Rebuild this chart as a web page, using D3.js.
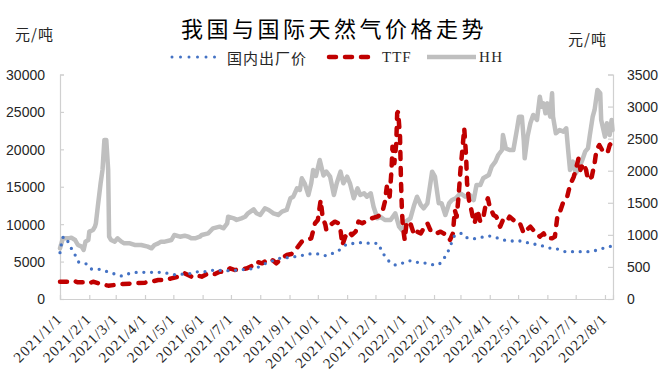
<!DOCTYPE html>
<html>
<head>
<meta charset="utf-8">
<script src="https://cdn.jsdelivr.net/npm/d3@7"></script>
<style>
  html, body { margin: 0; padding: 0; background: #fff; }
  svg { display: block; }
</style>
</head>
<body>
<svg id="chart" width="669" height="378"></svg>
<script>
// ---------- DATA ----------
const title = "我国与国际天然气价格走势";
const seriesNames = ["国内出厂价", "TTF", "HH"];
const leftTicks = [0, 5000, 10000, 15000, 20000, 25000, 30000];
const rightTicks = [0, 500, 1000, 1500, 2000, 2500, 3000, 3500];
const unitLabel = "元/吨";

// 国内出厂价 (left axis)
const domesticDates = ["2021-01-01","2021-01-05","2021-01-13","2021-01-17","2021-01-21","2021-01-29","2021-02-03","2021-02-12","2021-02-20","2021-02-28","2021-03-08","2021-03-16","2021-03-25","2021-04-01","2021-04-10","2021-04-18","2021-04-25","2021-05-03","2021-05-12","2021-05-21","2021-05-28","2021-06-05","2021-06-14","2021-06-23","2021-07-01","2021-07-09","2021-07-17","2021-07-25","2021-08-02","2021-08-10","2021-08-18","2021-08-24","2021-08-31","2021-09-09","2021-09-17","2021-09-24","2021-10-02","2021-10-10","2021-10-18","2021-10-25","2021-11-01","2021-11-09","2021-11-17","2021-11-26","2021-12-04","2021-12-07","2021-12-11","2021-12-17","2021-12-23","2021-12-31","2022-01-08","2022-01-16","2022-01-25","2022-02-02","2022-02-09","2022-02-13","2022-02-17","2022-02-23","2022-03-03","2022-03-08","2022-03-14","2022-03-23","2022-03-31","2022-04-08","2022-04-16","2022-04-25","2022-05-03","2022-05-11","2022-05-19","2022-05-27","2022-06-05","2022-06-13","2022-06-21","2022-06-29","2022-07-07","2022-07-15","2022-07-24","2022-08-01","2022-08-09"];
const domesticValues = [6190,8330,6770,5880,4920,4677,4009,3966,3653,3340,3073,3430,3564,3564,3564,3564,3430,3252,3340,3430,3653,3653,3875,3786,3786,3875,3964,4098,4410,4989,5212,5524,5524,5720,5880,6040,6013,5786,6190,6637,7310,7440,7530,7440,7440,6548,5746,4851,4544,4851,5118,4851,4766,4544,4900,5746,6637,8460,8776,8196,8050,8240,8420,8196,7885,7750,7750,7530,7310,7083,6770,6637,6320,6320,6320,6320,6548,6860,7083];

// TTF (left axis)
const ttfDates = ["2021-01-01","2021-01-10","2021-01-15","2021-01-20","2021-01-29","2021-02-01","2021-02-05","2021-02-14","2021-02-21","2021-02-28","2021-03-09","2021-03-21","2021-04-01","2021-04-08","2021-04-15","2021-04-22","2021-04-29","2021-05-06","2021-05-13","2021-05-20","2021-05-24","2021-05-31","2021-06-07","2021-06-14","2021-06-19","2021-06-25","2021-06-30","2021-07-05","2021-07-11","2021-07-18","2021-07-25","2021-07-28","2021-08-03","2021-08-08","2021-08-13","2021-08-18","2021-08-24","2021-08-29","2021-09-03","2021-09-10","2021-09-14","2021-09-19","2021-09-24","2021-09-28","2021-10-01","2021-10-04","2021-10-06","2021-10-09","2021-10-10","2021-10-14","2021-10-19","2021-10-23","2021-10-25","2021-10-27","2021-10-30","2021-11-03","2021-11-06","2021-11-10","2021-11-13","2021-11-17","2021-11-20","2021-11-24","2021-11-27","2021-12-03","2021-12-08","2021-12-11","2021-12-13","2021-12-16","2021-12-18","2021-12-19","2021-12-21","2021-12-23","2021-12-24","2021-12-25","2021-12-27","2021-12-28","2021-12-29","2021-12-30","2022-01-01","2022-01-03","2022-01-07","2022-01-11","2022-01-14","2022-01-18","2022-01-21","2022-01-25","2022-01-28","2022-02-01","2022-02-04","2022-02-08","2022-02-11","2022-02-15","2022-02-18","2022-02-21","2022-02-23","2022-02-25","2022-02-27","2022-03-01","2022-03-03","2022-03-05","2022-03-07","2022-03-08","2022-03-10","2022-03-11","2022-03-14","2022-03-16","2022-03-19","2022-03-22","2022-03-25","2022-03-28","2022-03-30","2022-04-01","2022-04-05","2022-04-08","2022-04-12","2022-04-15","2022-04-19","2022-04-22","2022-04-26","2022-04-30","2022-05-03","2022-05-07","2022-05-10","2022-05-14","2022-05-17","2022-05-21","2022-05-24","2022-05-28","2022-05-31","2022-06-06","2022-06-09","2022-06-12","2022-06-15","2022-06-18","2022-06-22","2022-06-25","2022-06-29","2022-07-01","2022-07-04","2022-07-06","2022-07-09","2022-07-12","2022-07-14","2022-07-18","2022-07-21","2022-07-23","2022-07-26","2022-07-29","2022-08-01","2022-08-04","2022-08-06","2022-08-09"];
const ttfValues = [2312,2312,2446,2227,2227,2094,2312,1960,1782,1871,2005,2094,2183,2312,2539,2539,2762,2985,3430,2985,3207,2985,3430,3340,3653,3653,4098,3875,3964,4098,4544,4989,4766,5212,5301,4766,5435,5880,6013,6994,7662,7885,8108,10116,10557,13230,11000,9889,9221,9889,10334,10116,9221,7216,8330,8998,8553,8998,10334,10116,10334,10557,10780,11000,11450,13005,15010,13670,17240,20350,18130,20800,24820,25030,21690,15900,11890,9660,7885,10334,10116,8553,8998,8776,9444,10116,9221,9221,8776,8998,8776,8553,7885,8776,11890,11000,13670,17240,19910,22810,19020,15460,13230,12790,11000,10116,11890,10334,10780,12790,13460,12340,11230,11000,9660,10557,10334,11000,10557,10116,10116,8776,9221,9660,9221,8776,8330,8776,8108,8108,8330,11450,11890,13005,13670,15230,16340,17240,18800,17240,18130,17240,15900,16340,18130,19910,20580,19910,20130,19680,20580,21020];

// HH (right axis)
const hhDates = ["2021-01-01","2021-01-04","2021-01-10","2021-01-13","2021-01-17","2021-01-20","2021-01-24","2021-01-26","2021-01-28","2021-01-31","2021-02-01","2021-02-05","2021-02-07","2021-02-08","2021-02-10","2021-02-13","2021-02-15","2021-02-17","2021-02-19","2021-02-21","2021-02-22","2021-02-24","2021-02-28","2021-03-03","2021-03-07","2021-03-10","2021-03-16","2021-03-21","2021-03-28","2021-04-04","2021-04-08","2021-04-11","2021-04-15","2021-04-18","2021-04-22","2021-04-29","2021-05-02","2021-05-08","2021-05-13","2021-05-17","2021-05-20","2021-05-24","2021-05-29","2021-05-31","2021-06-07","2021-06-12","2021-06-19","2021-06-23","2021-06-27","2021-06-28","2021-07-04","2021-07-07","2021-07-12","2021-07-16","2021-07-19","2021-07-25","2021-07-28","2021-08-01","2021-08-06","2021-08-10","2021-08-15","2021-08-20","2021-08-24","2021-08-29","2021-09-02","2021-09-05","2021-09-09","2021-09-12","2021-09-14","2021-09-17","2021-09-21","2021-09-24","2021-09-26","2021-09-29","2021-10-03","2021-10-07","2021-10-10","2021-10-14","2021-10-18","2021-10-21","2021-10-25","2021-10-28","2021-11-01","2021-11-04","2021-11-08","2021-11-12","2021-11-15","2021-11-19","2021-11-22","2021-11-26","2021-11-29","2021-12-03","2021-12-06","2021-12-11","2021-12-17","2021-12-22","2021-12-26","2021-12-29","2022-01-02","2022-01-07","2022-01-11","2022-01-14","2022-01-18","2022-01-21","2022-01-25","2022-01-30","2022-02-02","2022-02-06","2022-02-09","2022-02-13","2022-02-17","2022-02-20","2022-02-24","2022-03-01","2022-03-06","2022-03-11","2022-03-15","2022-03-18","2022-03-22","2022-03-25","2022-03-31","2022-04-03","2022-04-07","2022-04-10","2022-04-14","2022-04-15","2022-04-18","2022-04-22","2022-04-26","2022-04-30","2022-05-02","2022-05-05","2022-05-07","2022-05-08","2022-05-11","2022-05-14","2022-05-17","2022-05-21","2022-05-24","2022-05-26","2022-05-28","2022-05-30","2022-06-01","2022-06-04","2022-06-06","2022-06-07","2022-06-10","2022-06-14","2022-06-18","2022-06-21","2022-06-23","2022-06-25","2022-06-28","2022-07-01","2022-07-05","2022-07-08","2022-07-11","2022-07-14","2022-07-16","2022-07-19","2022-07-21","2022-07-24","2022-07-27","2022-07-28","2022-08-01","2022-08-03","2022-08-06","2022-08-08","2022-08-09"];
const hhValues = [790,946,946,956,920,842,816,764,894,920,1050,1076,1128,1180,1440,1804,2011,2479,2479,2011,971,920,894,946,894,868,868,842,842,816,790,842,868,894,894,920,998,971,987,971,946,946,971,998,1024,1102,1128,1102,1180,1283,1258,1232,1258,1283,1336,1398,1336,1310,1414,1388,1336,1310,1362,1388,1570,1595,1726,1700,1882,1804,1621,1804,2011,1918,2167,1925,1985,1907,1621,1804,1985,1804,1907,1804,1570,1726,1621,1648,1595,1648,1439,1258,1283,1232,1232,1336,1128,1076,1206,1258,1466,1595,1466,1414,1492,1985,1907,1492,1492,1310,1492,1543,1570,1648,1595,1621,1543,1777,1777,1882,1933,2063,2141,2245,2323,2557,2349,2323,2323,2661,2843,2843,2479,2193,2531,2739,2869,2791,3154,2998,3050,2895,3050,2843,3207,2843,2583,2635,2609,2661,2323,2011,2141,1960,2063,2167,2297,2349,2557,2843,2947,3258,3207,2791,2531,2739,2557,2791,2635];

// ---------- CHART ----------
const parse = d3.timeParse("%Y-%m-%d");
const svg = d3.select("#chart");
const plot = {left: 60, right: 613, top: 74.5, bottom: 299};

const x = d3.scaleTime()
  .domain([parse("2021-01-01"), new Date(2022, 7, 9, 12)])
  .range([plot.left, plot.right]);
const yL = d3.scaleLinear().domain([0, 30000]).range([plot.bottom, plot.top]);
const yR = d3.scaleLinear().domain([0, 3500]).range([plot.bottom, plot.top]);

const axisColor = "#D0D0D0";
const textColor = "#262626";
const numFont = "'Liberation Sans', Arial, sans-serif";
const cjkFont = "'Noto Sans CJK SC', sans-serif";
const serifFont = "'Liberation Serif', 'Times New Roman', serif";

// Title
svg.append("text")
  .attr("x", 334).attr("y", 27)
  .attr("text-anchor", "middle")
  .attr("dominant-baseline", "central")
  .style("font-family", cjkFont)
  .style("font-size", "22px")
  .style("letter-spacing", "3.5px")
  .style("font-weight", "400")
  .attr("fill", "#000")
  .text(title);

// Unit labels
svg.append("text").attr("x", 15).attr("y", 33)
  .attr("dominant-baseline", "central")
  .style("font-family", cjkFont).style("font-size", "15px")
  .style("letter-spacing", "1px")
  .attr("fill", textColor).text(unitLabel);
svg.append("text").attr("x", 568).attr("y", 38)
  .attr("dominant-baseline", "central")
  .style("font-family", cjkFont).style("font-size", "15px")
  .style("letter-spacing", "1px")
  .attr("fill", textColor).text(unitLabel);

// Left axis
const gL = svg.append("g").attr("transform", `translate(${plot.left},0)`)
  .call(d3.axisRight(yL).tickValues(leftTicks).tickSize(4).tickFormat(d3.format("d")));
gL.selectAll("path.domain").attr("stroke", axisColor).attr("stroke-width", 1.2);
gL.selectAll(".tick line").attr("stroke", axisColor).attr("stroke-width", 1.2);
gL.selectAll(".tick text")
  .attr("x", -15).attr("dy", "0.35em")
  .attr("text-anchor", "end")
  .style("font-family", numFont).style("font-size", "14px")
  .attr("fill", textColor);

// Right axis
const gR = svg.append("g").attr("transform", `translate(${plot.right},0)`)
  .call(d3.axisLeft(yR).tickValues(rightTicks).tickSize(5).tickFormat(d3.format("d")));
gR.selectAll("path.domain").attr("stroke", axisColor).attr("stroke-width", 1.2);
gR.selectAll(".tick line").attr("stroke", axisColor).attr("stroke-width", 1.2);
gR.selectAll(".tick text")
  .attr("x", 14).attr("dy", "0.35em")
  .attr("text-anchor", "start")
  .style("font-family", numFont).style("font-size", "14px")
  .attr("fill", textColor);

// X axis
const monthTicks = d3.timeMonth.range(parse("2021-01-01"), parse("2022-08-02"));
const gX = svg.append("g").attr("transform", `translate(0,${plot.bottom})`)
  .call(d3.axisTop(x).tickValues(monthTicks).tickSize(4).tickFormat(() => ""));
gX.selectAll("path.domain").attr("stroke", axisColor).attr("stroke-width", 1.2);
gX.selectAll(".tick line").attr("stroke", axisColor).attr("stroke-width", 1.2);
const fmt = d3.timeFormat("%Y/%-m/%-d");
svg.append("g").selectAll("text").data(monthTicks).join("text")
  .attr("transform", d => `translate(${x(d) + 3},${plot.bottom + 21}) rotate(-45)`)
  .attr("text-anchor", "end")
  .style("font-family", serifFont).style("font-size", "15px")
  .style("letter-spacing", "1px")
  .attr("fill", textColor)
  .text(d => fmt(d));

// Lines
const hhData = hhDates.map((d, i) => ({date: parse(d), v: hhValues[i]}));
const ttfData = ttfDates.map((d, i) => ({date: parse(d), v: ttfValues[i]}));
const domData = domesticDates.map((d, i) => ({date: parse(d), v: domesticValues[i]}));

const lineR = d3.line().x(d => x(d.date)).y(d => yR(d.v));
const lineL = d3.line().x(d => x(d.date)).y(d => yL(d.v));
const lineLSmooth = d3.line().x(d => x(d.date)).y(d => yL(d.v)).curve(d3.curveMonotoneX);

const colHH = "#BFBFBF", colTTF = "#C00000", colDom = "#4472C4";

svg.append("path").datum(hhData)
  .attr("d", lineR).attr("fill", "none")
  .attr("stroke", colHH).attr("stroke-width", 4.5)
  .attr("stroke-linejoin", "round").attr("stroke-linecap", "round");

svg.append("path").datum(ttfData)
  .attr("d", lineL).attr("fill", "none")
  .attr("stroke", colTTF).attr("stroke-width", 4.5)
  .attr("stroke-dasharray", "7,9")
  .attr("stroke-linejoin", "round").attr("stroke-linecap", "round");

svg.append("path").datum(domData)
  .attr("d", lineLSmooth).attr("fill", "none")
  .attr("stroke", colDom).attr("stroke-width", 3.3)
  .attr("stroke-dasharray", "0,7.7")
  .attr("stroke-linecap", "round");

// Legend
const legY = 57;
const leg = svg.append("g");
leg.append("line").attr("x1", 172).attr("x2", 215).attr("y1", legY).attr("y2", legY)
  .attr("stroke", colDom).attr("stroke-width", 3).attr("stroke-dasharray", "0,8.5").attr("stroke-linecap", "round");
leg.append("text").attr("x", 227).attr("y", legY).attr("dominant-baseline", "central")
  .style("font-family", cjkFont).style("font-size", "15px").style("letter-spacing", "1px")
  .attr("fill", textColor).text(seriesNames[0]);
leg.append("line").attr("x1", 329).attr("x2", 371).attr("y1", legY).attr("y2", legY)
  .attr("stroke", colTTF).attr("stroke-width", 4.5).attr("stroke-dasharray", "7,9").attr("stroke-linecap", "round");
leg.append("text").attr("x", 382).attr("y", legY).attr("dominant-baseline", "central")
  .style("font-family", serifFont).style("font-size", "15px").style("letter-spacing", "1px")
  .attr("fill", textColor).text(seriesNames[1]);
leg.append("line").attr("x1", 427).attr("x2", 476).attr("y1", legY).attr("y2", legY)
  .attr("stroke", colHH).attr("stroke-width", 4.5);
leg.append("text").attr("x", 479).attr("y", legY).attr("dominant-baseline", "central")
  .style("font-family", serifFont).style("font-size", "15px").style("letter-spacing", "1.5px")
  .attr("fill", textColor).text(seriesNames[2]);
</script>
</body>
</html>
